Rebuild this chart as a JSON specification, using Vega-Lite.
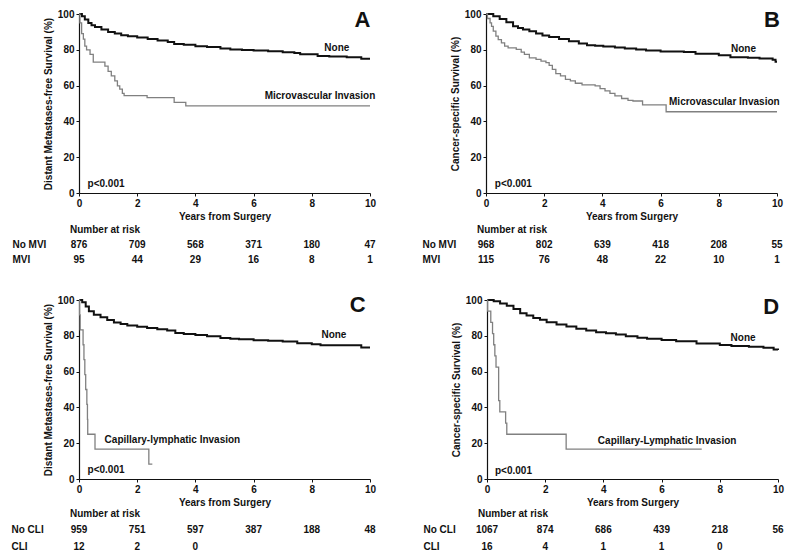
{
  "$schema": "https://vega.github.io/schema/vega-lite/v6.json",
  "background": "white",
  "padding": {"left": 10, "top": 8, "right": 5, "bottom": 4},
  "config": {
    "view": {"stroke": "transparent"},
    "font": "Liberation Sans",
    "axis": {"grid": false, "domainColor": "#111111", "domainWidth": 1.2, "tickColor": "#111111", "tickSize": 3, "tickWidth": 1, "labelFontSize": 10, "labelFontWeight": "bold", "labelColor": "#111111", "labelPadding": 2, "labelFlush": false, "labelOverlap": false, "titleFontSize": 10, "titleFontWeight": "bold", "titleColor": "#111111", "titlePadding": 3.5},
    "text": {"font": "Liberation Sans", "fontWeight": "bold", "color": "#111111"},
    "title": {"font": "Liberation Sans", "fontSize": 10, "fontWeight": "bold", "color": "#111111", "anchor": "start", "frame": "group"}
  },
  "datasets": {
    "curvesA": [
      {"g": "None", "t": 0, "s": 100}, {"g": "None", "t": 0.1, "s": 98.7}, {"g": "None", "t": 0.2, "s": 96.9}, {"g": "None", "t": 0.32, "s": 95}, {"g": "None", "t": 0.43, "s": 93.7}, {"g": "None", "t": 0.55, "s": 92.8}, {"g": "None", "t": 0.77, "s": 91.3}, {"g": "None", "t": 1.0, "s": 90}, {"g": "None", "t": 1.23, "s": 89.1}, {"g": "None", "t": 1.45, "s": 88.1}, {"g": "None", "t": 1.68, "s": 87.6}, {"g": "None", "t": 2.0, "s": 86.9}, {"g": "None", "t": 2.36, "s": 86.1}, {"g": "None", "t": 2.7, "s": 85.2}, {"g": "None", "t": 3.05, "s": 84.3}, {"g": "None", "t": 3.27, "s": 83.3}, {"g": "None", "t": 3.6, "s": 82.8}, {"g": "None", "t": 4.0, "s": 82}, {"g": "None", "t": 4.4, "s": 81.5}, {"g": "None", "t": 4.86, "s": 80.7}, {"g": "None", "t": 5.2, "s": 80.2}, {"g": "None", "t": 5.6, "s": 79.9}, {"g": "None", "t": 6.0, "s": 79.6}, {"g": "None", "t": 6.5, "s": 79.2}, {"g": "None", "t": 7.0, "s": 78.7}, {"g": "None", "t": 7.4, "s": 78.2}, {"g": "None", "t": 7.6, "s": 77.5}, {"g": "None", "t": 8.2, "s": 76.6}, {"g": "None", "t": 8.6, "s": 76.2}, {"g": "None", "t": 9.2, "s": 75.8}, {"g": "None", "t": 9.7, "s": 75.0}, {"g": "None", "t": 10, "s": 75.0},
      {"g": "Invasion", "t": 0, "s": 100}, {"g": "Invasion", "t": 0.03, "s": 95}, {"g": "Invasion", "t": 0.09, "s": 89}, {"g": "Invasion", "t": 0.15, "s": 86}, {"g": "Invasion", "t": 0.2, "s": 82}, {"g": "Invasion", "t": 0.26, "s": 80}, {"g": "Invasion", "t": 0.38, "s": 77.4}, {"g": "Invasion", "t": 0.49, "s": 73.1}, {"g": "Invasion", "t": 0.89, "s": 70.9}, {"g": "Invasion", "t": 1.0, "s": 68}, {"g": "Invasion", "t": 1.11, "s": 65.4}, {"g": "Invasion", "t": 1.23, "s": 62.6}, {"g": "Invasion", "t": 1.32, "s": 59.8}, {"g": "Invasion", "t": 1.4, "s": 58}, {"g": "Invasion", "t": 1.49, "s": 55.7}, {"g": "Invasion", "t": 1.55, "s": 54.4}, {"g": "Invasion", "t": 2.34, "s": 53.3}, {"g": "Invasion", "t": 3.27, "s": 50.6}, {"g": "Invasion", "t": 3.67, "s": 48.7}, {"g": "Invasion", "t": 10, "s": 48.7}
    ],
    "curvesB": [
      {"g": "None", "t": 0, "s": 100}, {"g": "None", "t": 0.25, "s": 98.7}, {"g": "None", "t": 0.47, "s": 97.2}, {"g": "None", "t": 0.7, "s": 95.4}, {"g": "None", "t": 0.93, "s": 93.1}, {"g": "None", "t": 1.1, "s": 92.2}, {"g": "None", "t": 1.27, "s": 91.3}, {"g": "None", "t": 1.49, "s": 90.4}, {"g": "None", "t": 1.72, "s": 89.1}, {"g": "None", "t": 1.94, "s": 88}, {"g": "None", "t": 2.17, "s": 87.2}, {"g": "None", "t": 2.51, "s": 86.1}, {"g": "None", "t": 2.85, "s": 84.8}, {"g": "None", "t": 3.19, "s": 83.5}, {"g": "None", "t": 3.47, "s": 82.6}, {"g": "None", "t": 3.75, "s": 82.2}, {"g": "None", "t": 4.03, "s": 81.9}, {"g": "None", "t": 4.43, "s": 81.3}, {"g": "None", "t": 4.77, "s": 80.7}, {"g": "None", "t": 5.16, "s": 80.2}, {"g": "None", "t": 5.5, "s": 79.6}, {"g": "None", "t": 6.0, "s": 79.0}, {"g": "None", "t": 6.8, "s": 78.8}, {"g": "None", "t": 7.2, "s": 77.8}, {"g": "None", "t": 8.0, "s": 77.0}, {"g": "None", "t": 8.4, "s": 75.9}, {"g": "None", "t": 9.0, "s": 75.5}, {"g": "None", "t": 9.4, "s": 75.2}, {"g": "None", "t": 9.85, "s": 74.4}, {"g": "None", "t": 9.95, "s": 73.3}, {"g": "None", "t": 10, "s": 73.3},
      {"g": "Invasion", "t": 0, "s": 100}, {"g": "Invasion", "t": 0.05, "s": 97.5}, {"g": "Invasion", "t": 0.14, "s": 95}, {"g": "Invasion", "t": 0.19, "s": 93.1}, {"g": "Invasion", "t": 0.25, "s": 90.4}, {"g": "Invasion", "t": 0.34, "s": 87.6}, {"g": "Invasion", "t": 0.42, "s": 85.7}, {"g": "Invasion", "t": 0.53, "s": 83.9}, {"g": "Invasion", "t": 0.64, "s": 82}, {"g": "Invasion", "t": 0.76, "s": 81.1}, {"g": "Invasion", "t": 1.04, "s": 80.2}, {"g": "Invasion", "t": 1.21, "s": 78.7}, {"g": "Invasion", "t": 1.32, "s": 77.4}, {"g": "Invasion", "t": 1.49, "s": 75.5}, {"g": "Invasion", "t": 1.72, "s": 74.6}, {"g": "Invasion", "t": 1.89, "s": 73.7}, {"g": "Invasion", "t": 2.06, "s": 72.8}, {"g": "Invasion", "t": 2.17, "s": 71.3}, {"g": "Invasion", "t": 2.28, "s": 69.1}, {"g": "Invasion", "t": 2.4, "s": 66.7}, {"g": "Invasion", "t": 2.56, "s": 65.4}, {"g": "Invasion", "t": 2.73, "s": 63.5}, {"g": "Invasion", "t": 2.9, "s": 62.6}, {"g": "Invasion", "t": 3.07, "s": 61.3}, {"g": "Invasion", "t": 3.3, "s": 60.4}, {"g": "Invasion", "t": 3.75, "s": 59.8}, {"g": "Invasion", "t": 3.92, "s": 58.3}, {"g": "Invasion", "t": 4.09, "s": 57}, {"g": "Invasion", "t": 4.26, "s": 55.7}, {"g": "Invasion", "t": 4.43, "s": 54.3}, {"g": "Invasion", "t": 4.66, "s": 52.8}, {"g": "Invasion", "t": 4.88, "s": 51.7}, {"g": "Invasion", "t": 5.05, "s": 51.4}, {"g": "Invasion", "t": 5.38, "s": 49.2}, {"g": "Invasion", "t": 6.19, "s": 45.4}, {"g": "Invasion", "t": 10, "s": 45.4}
    ],
    "curvesC": [
      {"g": "None", "t": 0, "s": 100}, {"g": "None", "t": 0.11, "s": 98.7}, {"g": "None", "t": 0.23, "s": 96.3}, {"g": "None", "t": 0.34, "s": 93.7}, {"g": "None", "t": 0.51, "s": 91.8}, {"g": "None", "t": 0.74, "s": 90.3}, {"g": "None", "t": 0.97, "s": 88.8}, {"g": "None", "t": 1.2, "s": 87.5}, {"g": "None", "t": 1.43, "s": 86.6}, {"g": "None", "t": 1.66, "s": 85.8}, {"g": "None", "t": 2.0, "s": 85.1}, {"g": "None", "t": 2.34, "s": 84.4}, {"g": "None", "t": 2.69, "s": 83.6}, {"g": "None", "t": 3.03, "s": 82.9}, {"g": "None", "t": 3.31, "s": 81.6}, {"g": "None", "t": 3.6, "s": 81}, {"g": "None", "t": 4.0, "s": 80.4}, {"g": "None", "t": 4.4, "s": 79.7}, {"g": "None", "t": 4.86, "s": 78.8}, {"g": "None", "t": 5.2, "s": 78.3}, {"g": "None", "t": 5.5, "s": 78.1}, {"g": "None", "t": 6.0, "s": 77.5}, {"g": "None", "t": 6.5, "s": 77.2}, {"g": "None", "t": 7.0, "s": 76.8}, {"g": "None", "t": 7.5, "s": 75.8}, {"g": "None", "t": 8.0, "s": 75.3}, {"g": "None", "t": 8.3, "s": 74.7}, {"g": "None", "t": 9.65, "s": 74.7}, {"g": "None", "t": 9.7, "s": 73.4}, {"g": "None", "t": 10, "s": 73.4},
      {"g": "Invasion", "t": 0, "s": 100}, {"g": "Invasion", "t": 0.02, "s": 91.7}, {"g": "Invasion", "t": 0.04, "s": 83.3}, {"g": "Invasion", "t": 0.14, "s": 75}, {"g": "Invasion", "t": 0.17, "s": 66.7}, {"g": "Invasion", "t": 0.2, "s": 58.3}, {"g": "Invasion", "t": 0.23, "s": 50}, {"g": "Invasion", "t": 0.27, "s": 41.7}, {"g": "Invasion", "t": 0.29, "s": 33.3}, {"g": "Invasion", "t": 0.3, "s": 25}, {"g": "Invasion", "t": 0.55, "s": 16.7}, {"g": "Invasion", "t": 2.4, "s": 8.3}, {"g": "Invasion", "t": 2.52, "s": 8.3}
    ],
    "curvesD": [
      {"g": "None", "t": 0, "s": 100}, {"g": "None", "t": 0.23, "s": 99.3}, {"g": "None", "t": 0.45, "s": 98.1}, {"g": "None", "t": 0.68, "s": 96.8}, {"g": "None", "t": 0.91, "s": 95}, {"g": "None", "t": 1.14, "s": 92.6}, {"g": "None", "t": 1.36, "s": 91.3}, {"g": "None", "t": 1.59, "s": 90}, {"g": "None", "t": 1.82, "s": 88.9}, {"g": "None", "t": 2.05, "s": 87.6}, {"g": "None", "t": 2.39, "s": 86.3}, {"g": "None", "t": 2.73, "s": 85.2}, {"g": "None", "t": 3.07, "s": 83.9}, {"g": "None", "t": 3.41, "s": 82.9}, {"g": "None", "t": 3.75, "s": 82}, {"g": "None", "t": 4.09, "s": 81.4}, {"g": "None", "t": 4.43, "s": 80.7}, {"g": "None", "t": 4.77, "s": 79.8}, {"g": "None", "t": 5.17, "s": 78.9}, {"g": "None", "t": 5.5, "s": 78.3}, {"g": "None", "t": 6.0, "s": 77.6}, {"g": "None", "t": 6.5, "s": 77.0}, {"g": "None", "t": 6.9, "s": 77.0}, {"g": "None", "t": 7.2, "s": 75.7}, {"g": "None", "t": 8.0, "s": 74.8}, {"g": "None", "t": 8.4, "s": 74.3}, {"g": "None", "t": 9.0, "s": 73.9}, {"g": "None", "t": 9.5, "s": 73.3}, {"g": "None", "t": 9.85, "s": 72.4}, {"g": "None", "t": 10, "s": 72.0},
      {"g": "Invasion", "t": 0, "s": 100}, {"g": "Invasion", "t": 0.02, "s": 93.75}, {"g": "Invasion", "t": 0.13, "s": 87.5}, {"g": "Invasion", "t": 0.19, "s": 81.25}, {"g": "Invasion", "t": 0.23, "s": 75}, {"g": "Invasion", "t": 0.27, "s": 68.75}, {"g": "Invasion", "t": 0.31, "s": 62.5}, {"g": "Invasion", "t": 0.4, "s": 43.75}, {"g": "Invasion", "t": 0.44, "s": 37.5}, {"g": "Invasion", "t": 0.64, "s": 31.25}, {"g": "Invasion", "t": 0.68, "s": 25}, {"g": "Invasion", "t": 2.72, "s": 16.7}, {"g": "Invasion", "t": 7.38, "s": 16.7}
    ],
    "notesA": [
      {"kind": "curve", "label": "None", "x": 8.86, "y": 80.8},
      {"kind": "curve", "label": "Microvascular Invasion", "x": 8.28, "y": 54.4},
      {"kind": "p", "label": "p<0.001", "x": 0.93, "y": 5.0},
      {"kind": "panel", "label": "A", "x": 9.74, "y": 96.8}
    ],
    "notesB": [
      {"kind": "curve", "label": "None", "x": 8.85, "y": 80.4},
      {"kind": "curve", "label": "Microvascular Invasion", "x": 8.19, "y": 51.0},
      {"kind": "p", "label": "p<0.001", "x": 0.94, "y": 5.0},
      {"kind": "panel", "label": "B", "x": 9.83, "y": 96.8}
    ],
    "notesC": [
      {"kind": "curve", "label": "None", "x": 8.76, "y": 80.4},
      {"kind": "curve", "label": "Capillary-lymphatic Invasion", "x": 3.21, "y": 21.8},
      {"kind": "p", "label": "p<0.001", "x": 0.93, "y": 5.0},
      {"kind": "panel", "label": "C", "x": 9.58, "y": 97.4}
    ],
    "notesD": [
      {"kind": "curve", "label": "None", "x": 8.8, "y": 78.8},
      {"kind": "curve", "label": "Capillary-Lymphatic Invasion", "x": 6.19, "y": 21.4},
      {"kind": "p", "label": "p<0.001", "x": 0.91, "y": 4.4},
      {"kind": "panel", "label": "D", "x": 9.77, "y": 96.3}
    ],
    "riskA": [
      {"row": "No MVI", "t": 0, "n": 876}, {"row": "No MVI", "t": 2, "n": 709}, {"row": "No MVI", "t": 4, "n": 568}, {"row": "No MVI", "t": 6, "n": 371}, {"row": "No MVI", "t": 8, "n": 180}, {"row": "No MVI", "t": 10, "n": 47},
      {"row": "MVI", "t": 0, "n": 95}, {"row": "MVI", "t": 2, "n": 44}, {"row": "MVI", "t": 4, "n": 29}, {"row": "MVI", "t": 6, "n": 16}, {"row": "MVI", "t": 8, "n": 8}, {"row": "MVI", "t": 10, "n": 1}
    ],
    "riskB": [
      {"row": "No MVI", "t": 0, "n": 968}, {"row": "No MVI", "t": 2, "n": 802}, {"row": "No MVI", "t": 4, "n": 639}, {"row": "No MVI", "t": 6, "n": 418}, {"row": "No MVI", "t": 8, "n": 208}, {"row": "No MVI", "t": 10, "n": 55},
      {"row": "MVI", "t": 0, "n": 115}, {"row": "MVI", "t": 2, "n": 76}, {"row": "MVI", "t": 4, "n": 48}, {"row": "MVI", "t": 6, "n": 22}, {"row": "MVI", "t": 8, "n": 10}, {"row": "MVI", "t": 10, "n": 1}
    ],
    "riskC": [
      {"row": "No CLI", "t": 0, "n": 959}, {"row": "No CLI", "t": 2, "n": 751}, {"row": "No CLI", "t": 4, "n": 597}, {"row": "No CLI", "t": 6, "n": 387}, {"row": "No CLI", "t": 8, "n": 188}, {"row": "No CLI", "t": 10, "n": 48},
      {"row": "CLI", "t": 0, "n": 12}, {"row": "CLI", "t": 2, "n": 2}, {"row": "CLI", "t": 4, "n": 0}
    ],
    "riskD": [
      {"row": "No CLI", "t": 0, "n": 1067}, {"row": "No CLI", "t": 2, "n": 874}, {"row": "No CLI", "t": 4, "n": 686}, {"row": "No CLI", "t": 6, "n": 439}, {"row": "No CLI", "t": 8, "n": 218}, {"row": "No CLI", "t": 10, "n": 56},
      {"row": "CLI", "t": 0, "n": 16}, {"row": "CLI", "t": 2, "n": 4}, {"row": "CLI", "t": 4, "n": 1}, {"row": "CLI", "t": 6, "n": 1}, {"row": "CLI", "t": 8, "n": 0}
    ]
  },
  "spacing": 25,
  "vconcat": [
    {
      "spacing": 44,
      "hconcat": [
        {
          "bounds": "flush",
          "spacing": 44,
          "vconcat": [
            {
              "width": 291, "height": 179,
              "layer": [
                {
                  "data": {"name": "curvesA"},
                  "mark": {"type": "line", "interpolate": "step-after"},
                  "encoding": {
                    "x": {"field": "t", "type": "quantitative", "scale": {"domain": [0, 10], "nice": false}, "axis": {"title": "Years from Surgery", "values": [0, 2, 4, 6, 8, 10], "tickCount": 6}},
                    "y": {"field": "s", "type": "quantitative", "scale": {"domain": [0, 100], "nice": false}, "axis": {"title": "Distant Metastases-free Survival (%)", "values": [0, 20, 40, 60, 80, 100], "tickCount": 6}},
                    "color": {"field": "g", "type": "nominal", "scale": {"domain": ["None", "Invasion"], "range": ["#111111", "#808080"]}, "legend": null},
                    "strokeWidth": {"field": "g", "type": "nominal", "scale": {"domain": ["None", "Invasion"], "range": [2, 1.3]}, "legend": null}
                  }
                },
                {
                  "data": {"name": "notesA"},
                  "transform": [{"filter": "datum.kind !== 'panel'"}],
                  "mark": {"type": "text", "fontSize": 10, "baseline": "middle", "align": "center"},
                  "encoding": {"x": {"field": "x", "type": "quantitative"}, "y": {"field": "y", "type": "quantitative"}, "text": {"field": "label"}}
                },
                {
                  "data": {"name": "notesA"},
                  "transform": [{"filter": "datum.kind === 'panel'"}],
                  "mark": {"type": "text", "fontSize": 22, "baseline": "middle", "align": "center"},
                  "encoding": {"x": {"field": "x", "type": "quantitative"}, "y": {"field": "y", "type": "quantitative"}, "text": {"field": "label"}}
                }
              ]
            },
            {
              "width": 291, "height": 30,
              "title": {"text": "Number at risk", "dx": -9, "offset": 2},
              "data": {"name": "riskA"},
              "mark": {"type": "text", "fontSize": 10, "baseline": "middle"},
              "encoding": {
                "x": {"field": "t", "type": "quantitative", "scale": {"domain": [0, 10], "nice": false}, "axis": null},
                "y": {"field": "row", "type": "nominal", "sort": ["No MVI", "MVI"], "axis": {"title": null, "domain": false, "ticks": false, "labelAlign": "left", "labelPadding": 67}},
                "text": {"field": "n", "type": "quantitative"}
              }
            }
          ]
        },
        {
          "bounds": "flush",
          "spacing": 44,
          "vconcat": [
            {
              "width": 291, "height": 179,
              "layer": [
                {
                  "data": {"name": "curvesB"},
                  "mark": {"type": "line", "interpolate": "step-after"},
                  "encoding": {
                    "x": {"field": "t", "type": "quantitative", "scale": {"domain": [0, 10], "nice": false}, "axis": {"title": "Years from Surgery", "values": [0, 2, 4, 6, 8, 10], "tickCount": 6}},
                    "y": {"field": "s", "type": "quantitative", "scale": {"domain": [0, 100], "nice": false}, "axis": {"title": "Cancer-specific Survival (%)", "values": [0, 20, 40, 60, 80, 100], "tickCount": 6}},
                    "color": {"field": "g", "type": "nominal", "scale": {"domain": ["None", "Invasion"], "range": ["#111111", "#808080"]}, "legend": null},
                    "strokeWidth": {"field": "g", "type": "nominal", "scale": {"domain": ["None", "Invasion"], "range": [2, 1.3]}, "legend": null}
                  }
                },
                {
                  "data": {"name": "notesB"},
                  "transform": [{"filter": "datum.kind !== 'panel'"}],
                  "mark": {"type": "text", "fontSize": 10, "baseline": "middle", "align": "center"},
                  "encoding": {"x": {"field": "x", "type": "quantitative"}, "y": {"field": "y", "type": "quantitative"}, "text": {"field": "label"}}
                },
                {
                  "data": {"name": "notesB"},
                  "transform": [{"filter": "datum.kind === 'panel'"}],
                  "mark": {"type": "text", "fontSize": 22, "baseline": "middle", "align": "center"},
                  "encoding": {"x": {"field": "x", "type": "quantitative"}, "y": {"field": "y", "type": "quantitative"}, "text": {"field": "label"}}
                }
              ]
            },
            {
              "width": 291, "height": 30,
              "title": {"text": "Number at risk", "dx": -9, "offset": 2},
              "data": {"name": "riskB"},
              "mark": {"type": "text", "fontSize": 10, "baseline": "middle"},
              "encoding": {
                "x": {"field": "t", "type": "quantitative", "scale": {"domain": [0, 10], "nice": false}, "axis": null},
                "y": {"field": "row", "type": "nominal", "sort": ["No MVI", "MVI"], "axis": {"title": null, "domain": false, "ticks": false, "labelAlign": "left", "labelPadding": 64}},
                "text": {"field": "n", "type": "quantitative"}
              }
            }
          ]
        }
      ]
    },
    {
      "spacing": 45,
      "hconcat": [
        {
          "bounds": "flush",
          "spacing": 42,
          "vconcat": [
            {
              "width": 291, "height": 179,
              "layer": [
                {
                  "data": {"name": "curvesC"},
                  "mark": {"type": "line", "interpolate": "step-after"},
                  "encoding": {
                    "x": {"field": "t", "type": "quantitative", "scale": {"domain": [0, 10], "nice": false}, "axis": {"title": "Years from Surgery", "values": [0, 2, 4, 6, 8, 10], "tickCount": 6}},
                    "y": {"field": "s", "type": "quantitative", "scale": {"domain": [0, 100], "nice": false}, "axis": {"title": "Distant Metastases-free  Survival (%)", "values": [0, 20, 40, 60, 80, 100], "tickCount": 6}},
                    "color": {"field": "g", "type": "nominal", "scale": {"domain": ["None", "Invasion"], "range": ["#111111", "#808080"]}, "legend": null},
                    "strokeWidth": {"field": "g", "type": "nominal", "scale": {"domain": ["None", "Invasion"], "range": [2, 1.3]}, "legend": null}
                  }
                },
                {
                  "data": {"name": "notesC"},
                  "transform": [{"filter": "datum.kind !== 'panel'"}],
                  "mark": {"type": "text", "fontSize": 10, "baseline": "middle", "align": "center"},
                  "encoding": {"x": {"field": "x", "type": "quantitative"}, "y": {"field": "y", "type": "quantitative"}, "text": {"field": "label"}}
                },
                {
                  "data": {"name": "notesC"},
                  "transform": [{"filter": "datum.kind === 'panel'"}],
                  "mark": {"type": "text", "fontSize": 22, "baseline": "middle", "align": "center"},
                  "encoding": {"x": {"field": "x", "type": "quantitative"}, "y": {"field": "y", "type": "quantitative"}, "text": {"field": "label"}}
                }
              ]
            },
            {
              "width": 291, "height": 34,
              "title": {"text": "Number at risk", "dx": -9, "offset": 2},
              "data": {"name": "riskC"},
              "mark": {"type": "text", "fontSize": 10, "baseline": "middle"},
              "encoding": {
                "x": {"field": "t", "type": "quantitative", "scale": {"domain": [0, 10], "nice": false}, "axis": null},
                "y": {"field": "row", "type": "nominal", "sort": ["No CLI", "CLI"], "axis": {"title": null, "domain": false, "ticks": false, "labelAlign": "left", "labelPadding": 68}},
                "text": {"field": "n", "type": "quantitative"}
              }
            }
          ]
        },
        {
          "bounds": "flush",
          "spacing": 42,
          "vconcat": [
            {
              "width": 291, "height": 179,
              "layer": [
                {
                  "data": {"name": "curvesD"},
                  "mark": {"type": "line", "interpolate": "step-after"},
                  "encoding": {
                    "x": {"field": "t", "type": "quantitative", "scale": {"domain": [0, 10], "nice": false}, "axis": {"title": "Years from Surgery", "values": [0, 2, 4, 6, 8, 10], "tickCount": 6}},
                    "y": {"field": "s", "type": "quantitative", "scale": {"domain": [0, 100], "nice": false}, "axis": {"title": "Cancer-specific Survival (%)", "values": [0, 20, 40, 60, 80, 100], "tickCount": 6}},
                    "color": {"field": "g", "type": "nominal", "scale": {"domain": ["None", "Invasion"], "range": ["#111111", "#808080"]}, "legend": null},
                    "strokeWidth": {"field": "g", "type": "nominal", "scale": {"domain": ["None", "Invasion"], "range": [2, 1.3]}, "legend": null}
                  }
                },
                {
                  "data": {"name": "notesD"},
                  "transform": [{"filter": "datum.kind !== 'panel'"}],
                  "mark": {"type": "text", "fontSize": 10, "baseline": "middle", "align": "center"},
                  "encoding": {"x": {"field": "x", "type": "quantitative"}, "y": {"field": "y", "type": "quantitative"}, "text": {"field": "label"}}
                },
                {
                  "data": {"name": "notesD"},
                  "transform": [{"filter": "datum.kind === 'panel'"}],
                  "mark": {"type": "text", "fontSize": 22, "baseline": "middle", "align": "center"},
                  "encoding": {"x": {"field": "x", "type": "quantitative"}, "y": {"field": "y", "type": "quantitative"}, "text": {"field": "label"}}
                }
              ]
            },
            {
              "width": 291, "height": 34,
              "title": {"text": "Number at risk", "dx": -9, "offset": 2},
              "data": {"name": "riskD"},
              "mark": {"type": "text", "fontSize": 10, "baseline": "middle"},
              "encoding": {
                "x": {"field": "t", "type": "quantitative", "scale": {"domain": [0, 10], "nice": false}, "axis": null},
                "y": {"field": "row", "type": "nominal", "sort": ["No CLI", "CLI"], "axis": {"title": null, "domain": false, "ticks": false, "labelAlign": "left", "labelPadding": 64}},
                "text": {"field": "n", "type": "quantitative"}
              }
            }
          ]
        }
      ]
    }
  ]
}
